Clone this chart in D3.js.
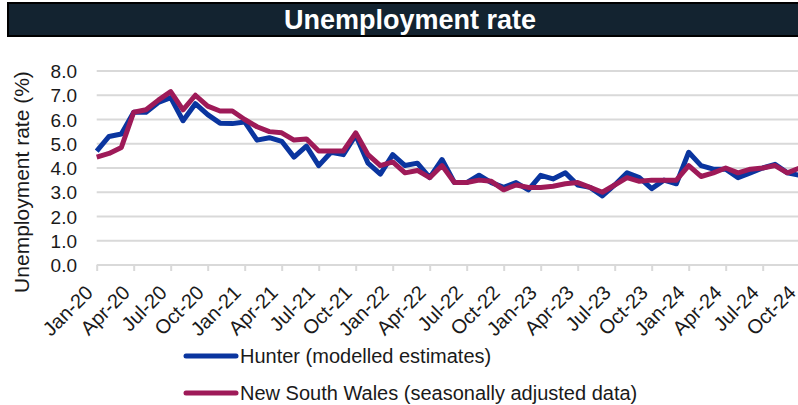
<!DOCTYPE html>
<html>
<head>
<meta charset="utf-8">
<script src="https://cdn.jsdelivr.net/npm/d3@7"></script>
<style>
  body { margin: 0; background: #fff; }
  svg { display: block; font-family: "Liberation Sans", Arial, sans-serif; }
</style>
</head>
<body>
<div id="chart"></div>
<script>
// categories: monthly, Jan-20 .. Oct-24
var months = [
  "Jan-20","Feb-20","Mar-20","Apr-20","May-20","Jun-20","Jul-20","Aug-20","Sep-20","Oct-20","Nov-20","Dec-20",
  "Jan-21","Feb-21","Mar-21","Apr-21","May-21","Jun-21","Jul-21","Aug-21","Sep-21","Oct-21","Nov-21","Dec-21",
  "Jan-22","Feb-22","Mar-22","Apr-22","May-22","Jun-22","Jul-22","Aug-22","Sep-22","Oct-22","Nov-22","Dec-22",
  "Jan-23","Feb-23","Mar-23","Apr-23","May-23","Jun-23","Jul-23","Aug-23","Sep-23","Oct-23","Nov-23","Dec-23",
  "Jan-24","Feb-24","Mar-24","Apr-24","May-24","Jun-24","Jul-24","Aug-24","Sep-24","Oct-24"
];

var hunter = [
  4.7,5.3,5.4,6.3,6.3,6.7,6.9,5.95,6.65,6.2,5.85,5.83,
  5.9,5.15,5.25,5.1,4.45,4.9,4.1,4.65,4.55,5.35,4.2,3.75,
  4.55,4.1,4.2,3.6,4.35,3.4,3.4,3.7,3.4,3.2,3.4,3.1,
  3.7,3.55,3.8,3.3,3.2,2.85,3.3,3.8,3.6,3.15,3.5,3.35,
  4.65,4.1,3.95,3.95,3.6,3.8,4.0,4.15,3.8,3.7
];

var nsw = [
  4.45,4.6,4.85,6.3,6.4,6.8,7.15,6.4,7.0,6.55,6.35,6.35,
  6.0,5.7,5.5,5.45,5.15,5.2,4.7,4.7,4.7,5.45,4.55,4.1,
  4.25,3.8,3.9,3.6,4.1,3.4,3.4,3.5,3.45,3.1,3.3,3.2,
  3.2,3.25,3.35,3.4,3.2,3.0,3.3,3.6,3.45,3.5,3.5,3.5,
  4.1,3.65,3.8,4.0,3.8,3.95,4.0,4.1,3.8,4.0
];

var tickLabels = ["Jan-20","Apr-20","Jul-20","Oct-20","Jan-21","Apr-21","Jul-21","Oct-21",
  "Jan-22","Apr-22","Jul-22","Oct-22","Jan-23","Apr-23","Jul-23","Oct-23",
  "Jan-24","Apr-24","Jul-24","Oct-24"];
var yTicks = [0,1,2,3,4,5,6,7,8];

var seriesNames = ["Hunter (modelled estimates)", "New South Wales (seasonally adjusted data)"];
var seriesColors = ["#0a359f", "#9e1a58"];

var width = 798, height = 405;

var svg = d3.select("#chart")
  .append("svg")
    .attr("width", width)
    .attr("height", height);

// title bar
svg.append("rect")
  .attr("x", 8).attr("y", 3)
  .attr("width", 791).attr("height", 33)
  .attr("fill", "#132330")
  .attr("stroke", "#000")
  .attr("stroke-width", 2);

svg.append("text")
  .attr("x", 410).attr("y", 29)
  .attr("text-anchor", "middle")
  .attr("fill", "#fff")
  .style("font-weight", "bold")
  .style("font-size", "27px")
  .text("Unemployment rate");

var x = d3.scalePoint()
  .domain(months)
  .range([96.7, 799.7]);

var y = d3.scaleLinear()
  .domain([0, 8])
  .range([265, 71]);

// grid lines
svg.append("g")
  .selectAll("line")
  .data(yTicks)
  .enter().append("line")
    .attr("x1", 96.7)
    .attr("x2", width)
    .attr("y1", d => y(d))
    .attr("y2", d => y(d))
    .attr("stroke", "#d9d9d9")
    .attr("stroke-width", 2);

// y axis labels
var yAxis = d3.axisLeft(y)
  .tickValues(yTicks)
  .tickFormat(d3.format(".1f"))
  .tickSize(0)
  .tickPadding(0);

svg.append("g")
  .attr("transform", "translate(77,0)")
  .call(yAxis)
  .call(g => g.select(".domain").remove())
  .selectAll("text")
    .attr("fill", "#1a1a1a")
    .style("font-size", "19px")
    .style("font-family", "'Liberation Sans', Arial, sans-serif")
    .attr("dy", "0.35em");

// x axis
var xAxis = d3.axisBottom(x)
  .tickValues(tickLabels)
  .tickSize(6)
  .tickPadding(0);

var gx = svg.append("g")
  .attr("transform", "translate(0," + y(0) + ")")
  .call(xAxis);

gx.select(".domain").remove();
gx.selectAll(".tick line")
  .attr("stroke", "#d9d9d9")
  .attr("stroke-width", 2);
gx.selectAll(".tick text")
  .attr("fill", "#1a1a1a")
  .style("font-size", "20px")
  .style("font-family", "'Liberation Sans', Arial, sans-serif")
  .attr("text-anchor", "end")
  .attr("x", 0)
  .attr("y", 0)
  .attr("dy", "0")
  .attr("transform", "translate(-3,29) rotate(-45)");

// y axis title
svg.append("text")
  .attr("transform", "translate(29,182) rotate(-90)")
  .attr("text-anchor", "middle")
  .attr("fill", "#1a1a1a")
  .style("font-size", "21px")
  .text("Unemployment rate (%)");

// lines
var line = d3.line()
  .x((d, i) => x(months[i]))
  .y(d => y(d));

[hunter, nsw].forEach((vals, k) => {
  svg.append("path")
    .datum(vals)
    .attr("fill", "none")
    .attr("stroke", seriesColors[k])
    .attr("stroke-width", 5)
    .attr("stroke-linejoin", "round")
    .attr("d", line);
});

// legend
var legendY = [356, 393];
seriesNames.forEach((name, k) => {
  svg.append("line")
    .attr("x1", 186).attr("x2", 236)
    .attr("y1", legendY[k]).attr("y2", legendY[k])
    .attr("stroke", seriesColors[k])
    .attr("stroke-width", 5)
    .attr("stroke-linecap", "round");
  svg.append("text")
    .attr("x", 240)
    .attr("y", legendY[k] + 7)
    .attr("fill", "#1a1a1a")
    .style("font-size", "20px")
    .text(name);
});
</script>
</body>
</html>
